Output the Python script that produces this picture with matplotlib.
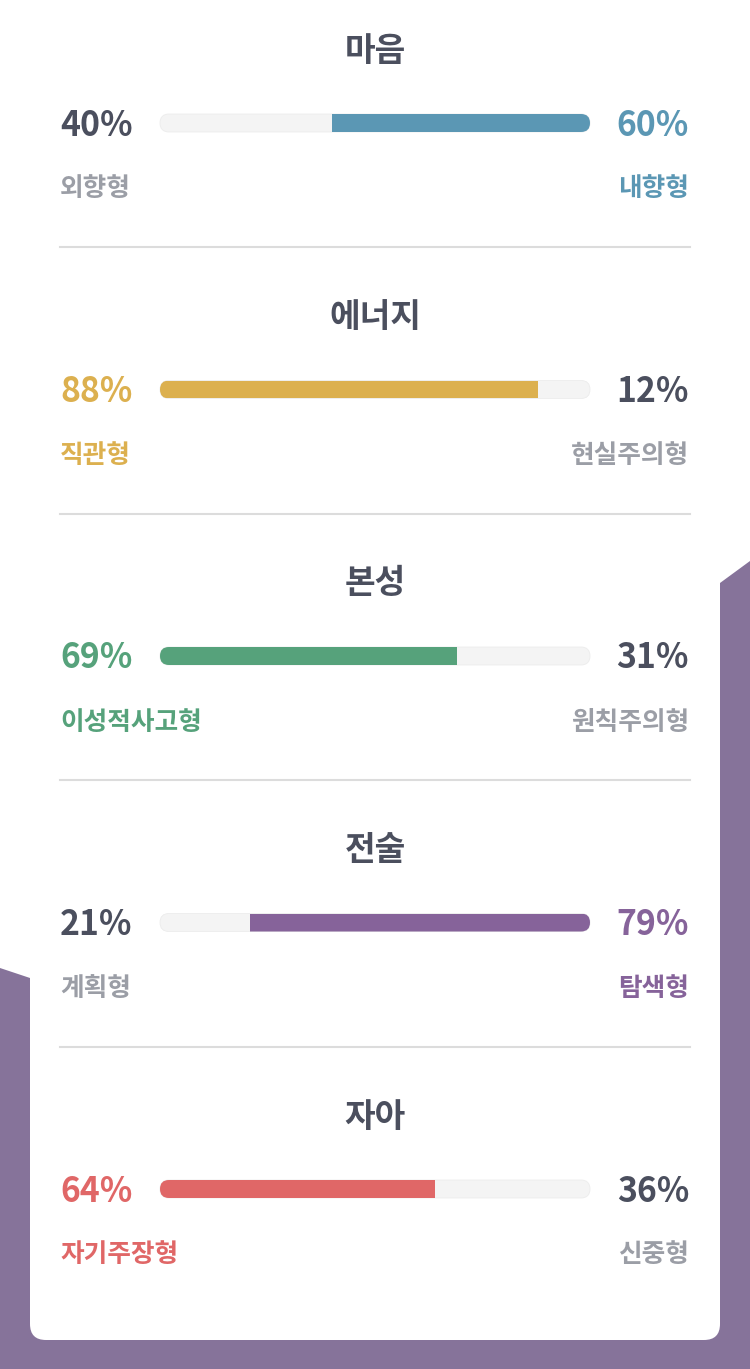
import matplotlib.pyplot as plt
from matplotlib.patches import FancyBboxPatch, Polygon

plt.rcParams['font.family'] = ['Noto Sans CJK KR', 'DejaVu Sans']

titles = ['마음', '에너지', '본성', '전술', '자아']
left_labels = ['외향형', '직관형', '이성적사고형', '계획형', '자기주장형']
right_labels = ['내향형', '현실주의형', '원칙주의형', '탐색형', '신중형']
left_pct = [40, 88, 69, 21, 64]
right_pct = [60, 12, 31, 79, 36]
colors = ['#5b97b4', '#dcb04f', '#56a27b', '#86639a', '#e06767']

W, H = 750, 1369
DARK = '#4b4f5e'
GRAY = '#9b9ea6'
BG_PURPLE = '#86739a'

fig = plt.figure(figsize=(W / 100, H / 100), dpi=100)
ax = fig.add_axes([0, 0, 1, 1])
ax.set_xlim(0, W)
ax.set_ylim(H, 0)
ax.axis('off')

# purple backdrop and white card
ax.add_patch(Polygon([(0, 968), (30, 978), (720, 583), (750, 561), (750, H), (0, H)],
                     closed=True, color=BG_PURPLE, lw=0, zorder=0))
ax.add_patch(FancyBboxPatch((30, -40), 690, 1380, boxstyle='round,pad=0,rounding_size=16',
                            fc='white', ec='none', zorder=1))

bx0, bw, bh = 160, 430, 18
step = 266.5

for i in range(len(titles)):
    top = 51 + step * i
    bar_y = top + 74
    lab_y = top + 138

    ax.text(375, top, titles[i], ha='center', va='center', fontsize=24,
            fontweight='bold', color=DARK, zorder=3)

    left_wins = left_pct[i] > right_pct[i]
    c = colors[i]
    lc = c if left_wins else DARK
    rc = DARK if left_wins else c
    llc = c if left_wins else GRAY
    rlc = GRAY if left_wins else c

    ax.text(60, bar_y, f'{left_pct[i]}%', ha='left', va='center', fontsize=24.3,
            fontweight='bold', color=lc, zorder=3)
    ax.text(689, bar_y, f'{right_pct[i]}%', ha='right', va='center', fontsize=24.3,
            fontweight='bold', color=rc, zorder=3)
    ax.text(60, lab_y, left_labels[i], ha='left', va='center', fontsize=18.5,
            fontweight='bold', color=llc, zorder=3)
    ax.text(689, lab_y, right_labels[i], ha='right', va='center', fontsize=18.5,
            fontweight='bold', color=rlc, zorder=3)

    bar_c = top + 72
    track = FancyBboxPatch((bx0, bar_c - bh / 2), bw, bh,
                           boxstyle=f'round,pad=0,rounding_size={bh / 2}',
                           fc='#f4f4f4', ec='#ececec', lw=0.6, zorder=2)
    ax.add_patch(track)

    # bar axes with a 0-100 scale, clipped to the rounded track
    bax = fig.add_axes([bx0 / W, 1 - (bar_c + bh / 2) / H, bw / W, bh / H], zorder=3)
    bax.set_xlim(0, 100)
    bax.set_ylim(-0.5, 0.5)
    bax.axis('off')
    bax.patch.set_alpha(0)
    if left_wins:
        bars = bax.barh(0, left_pct[i], left=0, height=1, color=c)
    else:
        bars = bax.barh(0, right_pct[i], left=left_pct[i], height=1, color=c)
    clip = FancyBboxPatch((bx0, bar_c - bh / 2), bw, bh,
                          boxstyle=f'round,pad=0,rounding_size={bh / 2}',
                          transform=ax.transData, fc='none', ec='none')
    for b in bars:
        b.set_clip_path(clip)

    if i < len(titles) - 1:
        ax.plot([60, 690], [top + 196, top + 196], color='#dcdcdc', lw=1.5, zorder=3)

fig.savefig('out.png', dpi=100)
